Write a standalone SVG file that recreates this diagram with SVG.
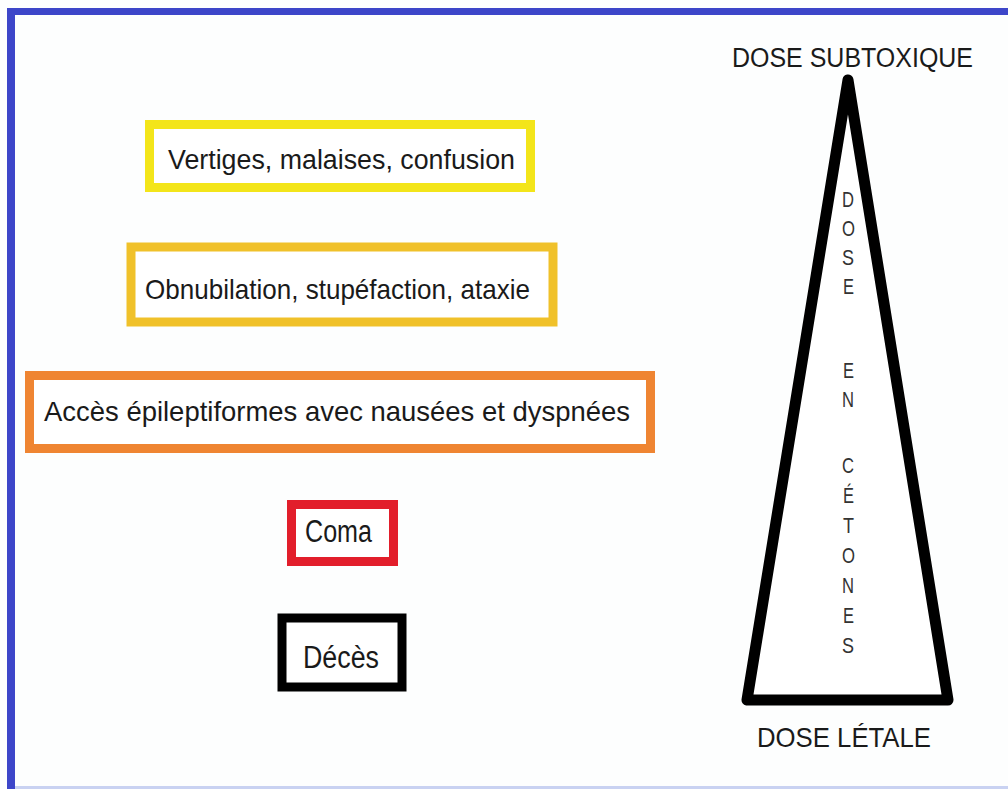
<svg xmlns="http://www.w3.org/2000/svg" width="1008" height="789" viewBox="0 0 1008 789">
<style>
.t{font-family:"Liberation Sans",Arial,sans-serif;fill:#1a1a1a}
.box{fill:#ffffff;stroke-width:9}
.v{font-family:"Liberation Sans",Arial,sans-serif;fill:#333;font-size:22px}
</style>
<rect x="0" y="0" width="1008" height="789" fill="#fdfefe"/>
<g id="frame">
<rect x="7" y="8" width="1001" height="7" fill="#3d46c9"/>
<rect x="7" y="8" width="8" height="781" fill="#3d46c9"/>
<rect x="15" y="786" width="993" height="3" fill="#c9d2f2"/>
</g>
<g id="n1">
<rect class="box" x="149.5" y="124.5" width="381" height="63" stroke="#f3e51a"/>
<text class="t" x="168" y="169" font-size="27" textLength="347" lengthAdjust="spacingAndGlyphs">Vertiges, malaises, confusion</text>
</g>
<g id="n2">
<rect class="box" x="131" y="247" width="422" height="75" stroke="#f0c12a"/>
<text class="t" x="145" y="299" font-size="28" textLength="385" lengthAdjust="spacingAndGlyphs">Obnubilation, stupéfaction, ataxie</text>
</g>
<g id="n3">
<rect class="box" x="29.5" y="375.5" width="621" height="73" stroke="#ef8532"/>
<text class="t" x="44" y="421" font-size="28" textLength="586" lengthAdjust="spacingAndGlyphs">Accès épileptiformes avec nausées et dyspnées</text>
</g>
<g id="n4">
<rect class="box" x="291.5" y="504.5" width="102" height="57" stroke="#e21e2b"/>
<text class="t" x="305" y="542" font-size="31" textLength="67" lengthAdjust="spacingAndGlyphs">Coma</text>
</g>
<g id="n5">
<rect class="box" x="282" y="618" width="120" height="69" stroke="#000" stroke-width="10"/>
<text class="t" x="303" y="668" font-size="31" textLength="76" lengthAdjust="spacingAndGlyphs">Décès</text>
</g>
<g id="pyramid">
<polygon points="848,80 747,700 948,700" fill="#ffffff" stroke="#000" stroke-width="11" stroke-linejoin="round"/>
<text class="t" x="732" y="67" font-size="27" textLength="241" lengthAdjust="spacingAndGlyphs">DOSE SUBTOXIQUE</text>
<text class="t" x="757" y="747" font-size="28" textLength="174" lengthAdjust="spacingAndGlyphs">DOSE LÉTALE</text>
<g id="vertical-label">
<text class="v" x="842" y="207" textLength="12" lengthAdjust="spacingAndGlyphs">D</text>
<text class="v" x="842" y="236" textLength="13" lengthAdjust="spacingAndGlyphs">O</text>
<text class="v" x="842" y="265" textLength="12" lengthAdjust="spacingAndGlyphs">S</text>
<text class="v" x="843" y="294" textLength="11" lengthAdjust="spacingAndGlyphs">E</text>
<text class="v" x="843" y="378" textLength="11" lengthAdjust="spacingAndGlyphs">E</text>
<text class="v" x="842" y="407" textLength="12" lengthAdjust="spacingAndGlyphs">N</text>
<text class="v" x="842" y="473" textLength="12" lengthAdjust="spacingAndGlyphs">C</text>
<text class="v" x="843" y="503" textLength="11" lengthAdjust="spacingAndGlyphs">É</text>
<text class="v" x="843" y="533" textLength="11" lengthAdjust="spacingAndGlyphs">T</text>
<text class="v" x="842" y="563" textLength="13" lengthAdjust="spacingAndGlyphs">O</text>
<text class="v" x="842" y="593" textLength="12" lengthAdjust="spacingAndGlyphs">N</text>
<text class="v" x="843" y="623" textLength="11" lengthAdjust="spacingAndGlyphs">E</text>
<text class="v" x="842" y="653" textLength="12" lengthAdjust="spacingAndGlyphs">S</text>
</g>
</g>
<g id="connectors"></g>
</svg>
